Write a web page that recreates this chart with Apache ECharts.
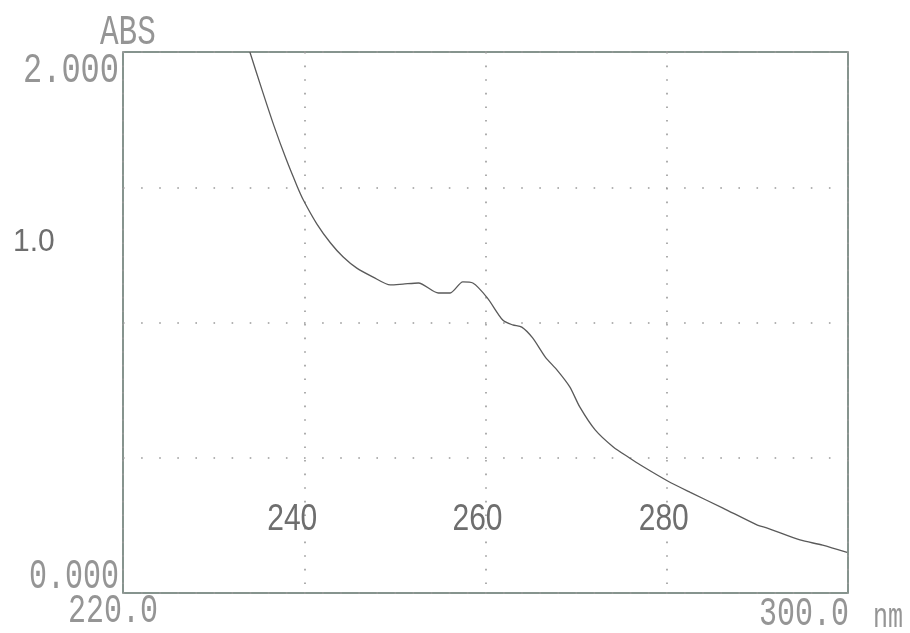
<!DOCTYPE html>
<html><head><meta charset="utf-8">
<script src="https://cdn.jsdelivr.net/npm/echarts@6/dist/echarts.min.js"></script>
<style>html,body{margin:0;padding:0;background:#fff}#c{width:910px;height:633px}</style>
</head><body><div id="c"></div>
<script>
// Wavelength (nm) and absorbance
const wavelengths = [234.0, 235.34, 236.66, 237.99, 239.2, 239.9, 241.4, 242.9, 244.3, 245.8, 247.6, 249.5, 250.9, 252.6, 254.8, 256.1, 257.5, 258.6, 260.2, 261.9, 263.0, 264.0, 265.2, 266.6, 267.9, 269.3, 270.4, 272.1, 274.1, 275.9, 277.1, 280.1, 282.6, 286.2, 290.0, 291.1, 294.7, 297.2, 299.9];
const absorbance  = [2.000, 1.860, 1.727, 1.605, 1.505, 1.453, 1.364, 1.294, 1.242, 1.201, 1.168, 1.139, 1.142, 1.146, 1.109, 1.109, 1.150, 1.146, 1.091, 1.009, 0.991, 0.983, 0.943, 0.872, 0.824, 0.762, 0.688, 0.603, 0.540, 0.499, 0.473, 0.414, 0.372, 0.314, 0.251, 0.240, 0.196, 0.177, 0.150];

const xRange = [220, 300];
const yRange = [0, 2];
const xInnerTicks = [240, 260, 280];
const xInnerLabels = ['240', '260', '280'];
const yEndLabels = ['0.000', '2.000'];
const xEndLabels = ['220.0', '300.0'];
const yAxisName = 'ABS';
const xUnit = 'nm';
const yHandLabel = '1.0';

const chart = echarts.init(document.getElementById('c'), null, {renderer: 'canvas'});
const data = wavelengths.map((w, i) => [w, absorbance[i]]);

const gridDot = (gap) => ({color: '#9a9a9a', width: 1.6, type: [1.6, gap]});

chart.setOption({
  animation: false,
  backgroundColor: '#ffffff',
  grid: {left: 123, right: 62, top: 52, bottom: 40, show: true, borderColor: '#5f716a', borderWidth: 1.5, containLabel: false},
  xAxis: {
    type: 'value', min: xRange[0], max: xRange[1], interval: 20,
    axisLine: {show: false}, axisTick: {show: false}, axisLabel: {show: false},
    splitLine: {show: true, lineStyle: gridDot(12)}
  },
  yAxis: {
    type: 'value', min: yRange[0], max: yRange[1], interval: 0.5,
    axisLine: {show: false}, axisTick: {show: false}, axisLabel: {show: false},
    splitLine: {show: true, lineStyle: gridDot(16.5)}
  },
  series: [{
    type: 'line', data: data, showSymbol: false, smooth: 0.25,
    lineStyle: {color: '#5a5a5a', width: 1.3}, clip: true
  }]
});

const px = (x, y) => chart.convertToPixel({gridIndex: 0}, [x, y]);
const mono = 'Liberation Mono, DejaVu Sans Mono, monospace';
const sans = 'Liberation Sans, Arial, sans-serif';
const txt = (text, x, y, align, font, size, sy, color) => ({
  type: 'text', x: x, y: y, scaleY: sy, silent: true,
  style: {text: text, x: 0, y: 0, align: align, verticalAlign: 'middle', fontFamily: font, fontSize: size, fill: color}
});

const pTL = px(xRange[0], yRange[1]);
const pBL = px(xRange[0], yRange[0]);
const pBR = px(xRange[1], yRange[0]);
const g = [];
const monoC = '#959595';
g.push(txt(yAxisName, pTL[0] - 23, pTL[1] - 19, 'left', mono, 31, 1.35, monoC));
g.push(txt(yEndLabels[1], pTL[0] - 4, pTL[1] + 19, 'right', mono, 32, 1.35, monoC));
g.push(txt(yEndLabels[0], pBL[0] - 4, pBL[1] - 16, 'right', mono, 30, 1.4, monoC));
g.push(txt(xEndLabels[0], pBL[0] + 35, pBL[1] + 18, 'right', mono, 30, 1.35, monoC));
g.push(txt(xEndLabels[1], pBR[0] + 1, pBR[1] + 21, 'right', mono, 30, 1.35, monoC));
g.push(txt(xUnit, pBR[0] + 25, pBR[1] + 25, 'left', mono, 25, 1.4, monoC));
g.push(txt(yHandLabel, 13, pTL[1] + 190, 'left', sans, 30, 1.05, '#6e6e6e'));
const offs = [-12, -8, -3];
xInnerTicks.forEach((t, i) => {
  const p = px(t, yRange[0]);
  g.push(txt(xInnerLabels[i], p[0] + offs[i], p[1] - 73, 'center', sans, 30, 1.2, '#6e6e6e'));
});
chart.setOption({graphic: {elements: g}});
</script>
</body></html>
